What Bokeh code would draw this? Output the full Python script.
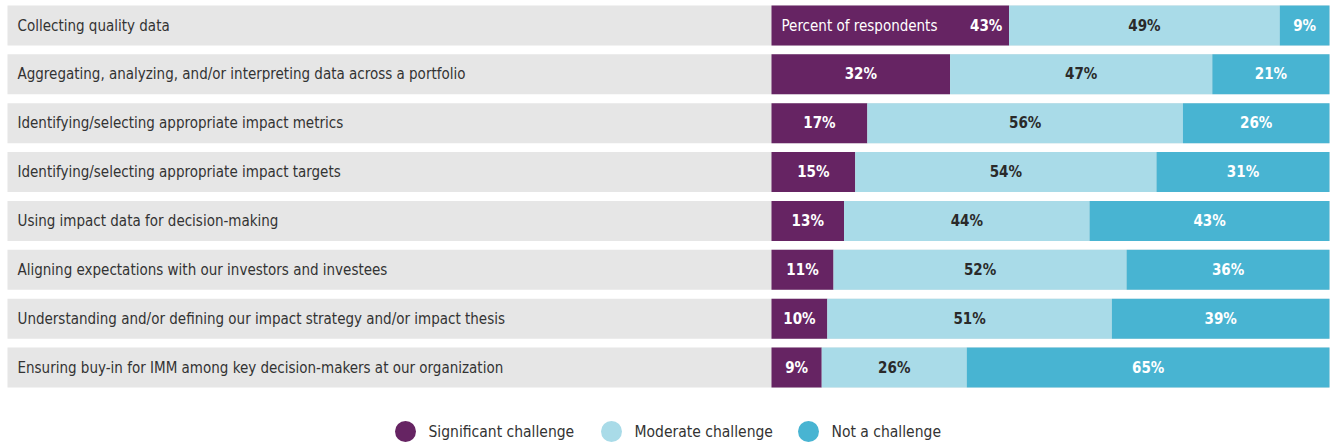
from bokeh.plotting import figure
from bokeh.models import Range1d, ColumnDataSource
from bokeh.core.properties import value
from bokeh.embed import file_html
from bokeh.resources import INLINE

categories = [
    "Collecting quality data",
    "Aggregating, analyzing, and/or interpreting data across a portfolio",
    "Identifying/selecting appropriate impact metrics",
    "Identifying/selecting appropriate impact targets",
    "Using impact data for decision-making",
    "Aligning expectations with our investors and investees",
    "Understanding and/or defining our impact strategy and/or impact thesis",
    "Ensuring buy-in for IMM among key decision-makers at our organization",
]
significant = [43, 32, 17, 15, 13, 11, 10, 9]
moderate = [49, 47, 56, 54, 44, 52, 51, 26]
not_challenge = [9, 21, 26, 31, 43, 36, 39, 65]
series_names = ["Significant challenge", "Moderate challenge", "Not a challenge"]
colors = ["#662463", "#a9dbe8", "#48b4d2"]
label_colors = ["white", "#2a2a2a", "white"]

FONT = "DejaVu Sans Condensed"
W, H = 1335, 445
BAR_L, BAR_R = 771, 1329
PX = (BAR_R - BAR_L) / 100.0
ROW0, PITCH = 25.0, 48.86

def xd(px):
    return (px - BAR_L) / PX

def yd(py):
    return (py - ROW0) / PITCH

p = figure(width=W, height=H, output_backend="svg", toolbar_location=None,
           x_range=Range1d(xd(0), xd(W)), y_range=Range1d(yd(H), yd(0)),
           min_border=0, outline_line_color=None)
p.axis.visible = False
p.grid.visible = False
p.background_fill_color = "white"
p.border_fill_color = "white"

n = len(categories)
ys = list(range(n))
hh = 40 / PITCH

# gray bands
p.hbar(y=ys, left=xd(7), right=100, height=hh, fill_color="#e6e6e6", line_color=None)
p.text(x=[xd(17)] * n, y=ys, text=categories, text_font=value(FONT), text_font_size="15px",
       text_color="#333333", text_align="left", text_baseline="middle")

series = [significant, moderate, not_challenge]
totals = [sum(v) for v in zip(*series)]
lefts = [0.0] * n
for k, vals in enumerate(series):
    shares = [v / t * 100 for v, t in zip(vals, totals)]
    rights = [l + s for l, s in zip(lefts, shares)]
    src = ColumnDataSource(dict(y=ys, left=lefts, right=rights))
    p.hbar(y="y", left="left", right="right", height=hh, source=src,
           fill_color=colors[k], line_color=None)
    cx = [(l + r) / 2 for l, r in zip(lefts, rights)]
    aligns = ["center"] * n
    if k == 0:
        cx[0] = rights[0] - 1.2
        aligns[0] = "right"
    for i in range(n):
        p.text(x=[cx[i]], y=[i], text=[f"{vals[i]}%"], text_font=value(FONT),
               text_font_size="15px", text_font_style="bold", text_color=label_colors[k],
               text_align=aligns[i], text_baseline="middle")
    lefts = rights

p.text(x=[xd(781)], y=[0], text=["Percent of respondents"], text_font=value(FONT),
       text_font_size="15px", text_color="white", text_align="left", text_baseline="middle")

# legend
leg_cx = [405, 611, 808]
leg_y = yd(431)
p.scatter(x=[xd(c) for c in leg_cx], y=[leg_y] * 3, size=21, marker="circle",
          fill_color=colors, line_color=None)
p.text(x=[xd(c + 23) for c in leg_cx], y=[leg_y] * 3, text=series_names, text_font=value(FONT),
       text_font_size="15.5px", text_color="#333333", text_align="left", text_baseline="middle")

open("out.html", "w").write(file_html(p, INLINE))
